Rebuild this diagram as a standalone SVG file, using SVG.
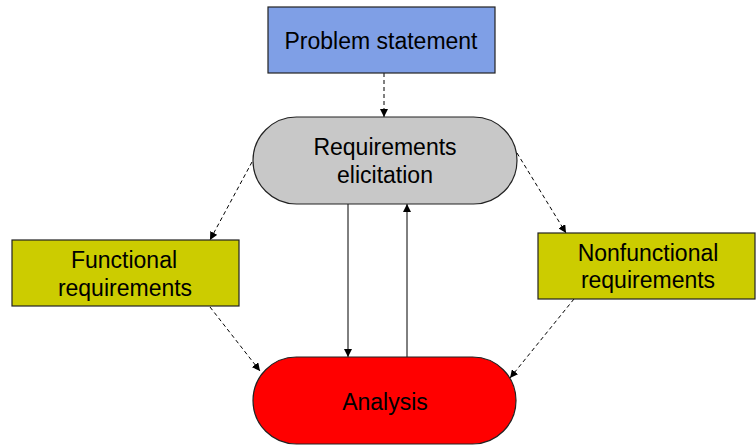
<svg xmlns="http://www.w3.org/2000/svg" width="756" height="446" viewBox="0 0 756 446">
<style>
text{font-family:"Liberation Sans",Arial,sans-serif;font-size:23px;fill:#000;text-anchor:middle}
.n{stroke:#222;stroke-width:1.2}
.d{stroke:#000;stroke-width:1;fill:none;stroke-dasharray:4,3}
.s{stroke:#000;stroke-width:1;fill:none}
</style>
<defs>
<marker id="ah" viewBox="0 0 10 10" refX="10" refY="5" markerWidth="8" markerHeight="8" markerUnits="userSpaceOnUse" orient="auto">
<path d="M0,0 L10,5 L0,10 z" fill="#000"/>
</marker>
</defs>
<rect width="756" height="446" fill="#fff"/>
<g id="connectors">
<line class="d" x1="384" y1="73" x2="384" y2="117" marker-end="url(#ah)"/>
<line class="d" x1="252" y1="162" x2="210" y2="240" marker-end="url(#ah)"/>
<line class="d" x1="210" y1="307" x2="260" y2="371" marker-end="url(#ah)"/>
<line class="d" x1="517" y1="153" x2="566" y2="233" marker-end="url(#ah)"/>
<line class="d" x1="574" y1="299" x2="510" y2="378" marker-end="url(#ah)"/>
<line class="s" x1="348" y1="204" x2="348" y2="357" marker-end="url(#ah)"/>
<line class="s" x1="407" y1="357" x2="407" y2="204" marker-end="url(#ah)"/>
</g>
<g id="problem">
<rect class="n" x="268" y="7" width="227" height="66" fill="#7f9fe6"/>
<text x="381" y="49">Problem statement</text>
</g>
<g id="elicitation">
<rect class="n" x="253" y="117" width="264" height="87" rx="43.5" fill="#c8c8c8"/>
<text x="385" y="155">Requirements</text>
<text x="385" y="182.5">elicitation</text>
</g>
<g id="functional">
<rect class="n" x="12" y="240" width="227" height="66" fill="#cccc00"/>
<text x="124" y="268">Functional</text>
<text x="125" y="295.5">requirements</text>
</g>
<g id="nonfunctional">
<rect class="n" x="538" y="233" width="217" height="66" fill="#cccc00"/>
<text x="648" y="260.5">Nonfunctional</text>
<text x="648" y="288">requirements</text>
</g>
<g id="analysis">
<rect class="n" x="253" y="357" width="263" height="87" rx="43.5" fill="#ff0000"/>
<text x="385" y="410">Analysis</text>
</g>
</svg>
